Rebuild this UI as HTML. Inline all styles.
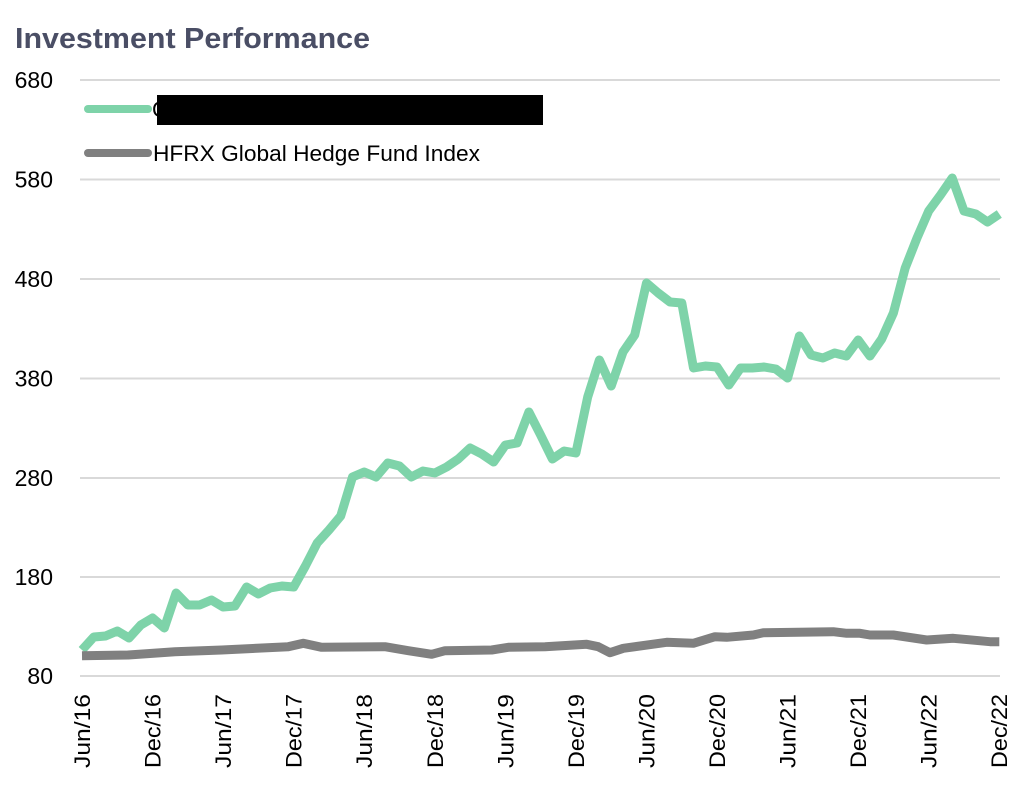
<!DOCTYPE html>
<html>
<head>
<meta charset="utf-8">
<style>
html,body{margin:0;padding:0;background:#fff;}
svg{display:block;}
text{font-family:"Liberation Sans",Arial,sans-serif;}
</style>
</head>
<body>
<svg width="1024" height="787" viewBox="0 0 1024 787" xmlns="http://www.w3.org/2000/svg">
<rect x="0" y="0" width="1024" height="787" fill="#fff"/>
<text x="15" y="48" font-size="29" font-weight="bold" fill="#4a4e65" textLength="355" lengthAdjust="spacingAndGlyphs">Investment Performance</text>

<g stroke="#d9d9d9" stroke-width="2">
<line x1="80" y1="80" x2="1000" y2="80"/>
<line x1="80" y1="179.5" x2="1000" y2="179.5"/>
<line x1="80" y1="279" x2="1000" y2="279"/>
<line x1="80" y1="378.5" x2="1000" y2="378.5"/>
<line x1="80" y1="478" x2="1000" y2="478"/>
<line x1="80" y1="577" x2="1000" y2="577"/>
<line x1="80" y1="676" x2="1000" y2="676"/>
</g>

<g font-size="23" fill="#000" text-anchor="end">
<text x="53" y="88">680</text>
<text x="53" y="187.5">580</text>
<text x="53" y="287">480</text>
<text x="53" y="386.5">380</text>
<text x="53" y="486">280</text>
<text x="53" y="585">180</text>
<text x="53" y="684">80</text>
</g>

<g font-size="22" fill="#000" text-anchor="end">
<text transform="translate(90,694) rotate(-90)" textLength="74" lengthAdjust="spacingAndGlyphs">Jun/16</text>
<text transform="translate(160.6,694) rotate(-90)" textLength="74" lengthAdjust="spacingAndGlyphs">Dec/16</text>
<text transform="translate(231.1,694) rotate(-90)" textLength="74" lengthAdjust="spacingAndGlyphs">Jun/17</text>
<text transform="translate(301.7,694) rotate(-90)" textLength="74" lengthAdjust="spacingAndGlyphs">Dec/17</text>
<text transform="translate(372.2,694) rotate(-90)" textLength="74" lengthAdjust="spacingAndGlyphs">Jun/18</text>
<text transform="translate(442.8,694) rotate(-90)" textLength="74" lengthAdjust="spacingAndGlyphs">Dec/18</text>
<text transform="translate(513.4,694) rotate(-90)" textLength="74" lengthAdjust="spacingAndGlyphs">Jun/19</text>
<text transform="translate(583.9,694) rotate(-90)" textLength="74" lengthAdjust="spacingAndGlyphs">Dec/19</text>
<text transform="translate(654.5,694) rotate(-90)" textLength="74" lengthAdjust="spacingAndGlyphs">Jun/20</text>
<text transform="translate(725,694) rotate(-90)" textLength="74" lengthAdjust="spacingAndGlyphs">Dec/20</text>
<text transform="translate(795.6,694) rotate(-90)" textLength="74" lengthAdjust="spacingAndGlyphs">Jun/21</text>
<text transform="translate(866.2,694) rotate(-90)" textLength="74" lengthAdjust="spacingAndGlyphs">Dec/21</text>
<text transform="translate(936.7,694) rotate(-90)" textLength="74" lengthAdjust="spacingAndGlyphs">Jun/22</text>
<text transform="translate(1007,694) rotate(-90)" textLength="74" lengthAdjust="spacingAndGlyphs">Dec/22</text>
</g>

<!-- green series -->
<polyline fill="none" stroke="#7ed3a9" stroke-width="9" stroke-linejoin="round" stroke-linecap="butt"
points="82,650 93.8,637 105.5,636 117.3,631 129,638 140.8,625 152.6,618 164.3,628 176.1,593 187.8,605 199.6,605 211.4,600 223.1,607 234.9,606 246.6,587 258.4,594 270.2,588 281.9,586 293.7,587 305.4,566 317.2,543 329,530 340.7,516 352.5,477 364.2,472 376,477 387.8,463 399.5,466 411.3,477 423,471 434.8,473 446.6,467 458.3,459 470.1,448 481.8,454 493.6,462 505.4,445 517.1,443 528.9,412 540.6,435 552.4,459 564.2,451 575.9,453 587.7,397 599.4,360 611.2,386 623,352 634.7,335 646.5,283 658.2,293 670,302 681.8,303 693.5,368 705.3,366 717,367 728.8,385 740.6,368 752.3,368 764.1,367 775.8,369 787.6,378 799.4,336 811.1,355 822.9,358 834.6,353 846.4,356 858.2,340 869.9,356 881.7,339 893.4,313 905.2,268 917,238 928.7,211 940.5,195 952.2,178 964,211 975.8,214 987.5,222 999.3,214"/>

<!-- gray series -->
<polyline fill="none" stroke="#808080" stroke-width="9" stroke-linejoin="round" stroke-linecap="butt"
points="82,655.7 128.3,655 175,651.7 221.7,650 288.3,646.7 303.3,643.3 321.7,647.3 385,646.7 408.3,650.7 431.7,654.3 445,650.7 491.7,650 508.3,647.3 545,646.7 586.7,644.3 598.3,646.7 610,652.7 623.3,648.3 666.7,642.3 693.3,643.3 715,636.7 726.7,637.3 753.3,635 763.3,632.7 833.3,631.7 846.7,633.3 860,633.3 870,635 893.3,635 926.7,640 953.3,638.3 990,641.7 999.3,641.7"/>

<!-- legend -->
<line x1="88" y1="109" x2="148" y2="109" stroke="#7ed3a9" stroke-width="8" stroke-linecap="round"/>
<text x="152" y="117" font-size="22" fill="#000">C</text>
<rect x="157" y="95" width="386" height="30" fill="#000"/>
<line x1="88" y1="153" x2="148" y2="153" stroke="#808080" stroke-width="8" stroke-linecap="round"/>
<text x="153" y="161" font-size="22" fill="#000" textLength="327" lengthAdjust="spacingAndGlyphs">HFRX Global Hedge Fund Index</text>
</svg>
</body>
</html>
